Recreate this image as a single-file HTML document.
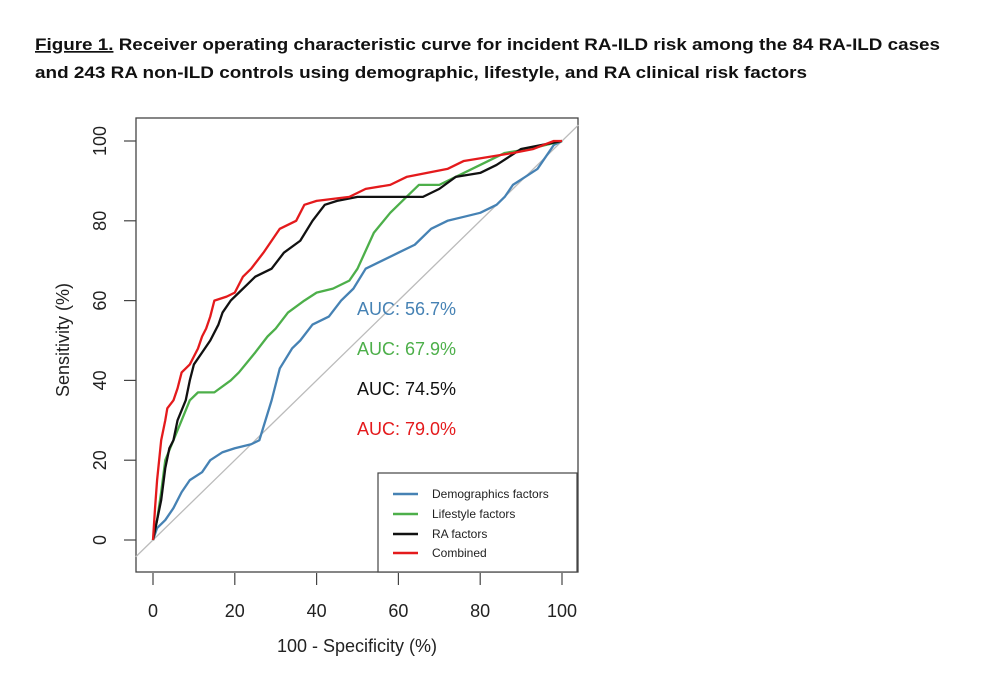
<!DOCTYPE html>
<html><head><meta charset="utf-8"><style>
html,body{margin:0;padding:0;background:#fff;}
svg{display:block;font-family:"Liberation Sans",Arial,sans-serif;}
</style></head><body>
<svg id="chart" width="986" height="678" viewBox="0 0 986 678">
<text x="35" y="50" font-size="17" font-weight="bold" fill="#111" textLength="905" lengthAdjust="spacingAndGlyphs"><tspan text-decoration="underline">Figure 1.</tspan> Receiver operating characteristic curve for incident RA-ILD risk among the 84 RA-ILD cases</text>
<text x="35" y="78" font-size="17" font-weight="bold" fill="#111" textLength="772" lengthAdjust="spacingAndGlyphs">and 243 RA non-ILD controls using demographic, lifestyle, and RA clinical risk factors</text>
<rect x="136" y="118" width="442" height="454" fill="none" stroke="#444" stroke-width="1.3"/>
<g id="axes"></g>
<g id="curves"></g>
<text x="357" y="652" font-size="18" text-anchor="middle" fill="#222">100 - Specificity (%)</text>
<text transform="translate(69,340) rotate(-90)" font-size="18" text-anchor="middle" fill="#222">Sensitivity (%)</text>
<text x="357" y="315" font-size="18" fill="#4682b4">AUC: 56.7%</text>
<text x="357" y="355" font-size="18" fill="#4daf4a">AUC: 67.9%</text>
<text x="357" y="395" font-size="18" fill="#111">AUC: 74.5%</text>
<text x="357" y="435" font-size="18" fill="#e41a1c">AUC: 79.0%</text>
<g>
<rect x="378" y="473" width="199" height="99" fill="#fff" stroke="#444" stroke-width="1.2"/>
<line x1="393" x2="418" y1="494" y2="494" stroke="#4682b4" stroke-width="2.5"/>
<text x="432" y="498" font-size="12" fill="#222">Demographics factors</text>
<line x1="393" x2="418" y1="514" y2="514" stroke="#4daf4a" stroke-width="2.5"/>
<text x="432" y="518" font-size="12" fill="#222">Lifestyle factors</text>
<line x1="393" x2="418" y1="534" y2="534" stroke="#111" stroke-width="2.5"/>
<text x="432" y="538" font-size="12" fill="#222">RA factors</text>
<line x1="393" x2="418" y1="553" y2="553" stroke="#e41a1c" stroke-width="2.5"/>
<text x="432" y="557" font-size="12" fill="#222">Combined</text>
</g>
</svg>
<script>
const xTicks = [0, 20, 40, 60, 80, 100];
const yTicks = [0, 20, 40, 60, 80, 100];
const demoX = [0,1,3,5,7,9,12,14,17,20,24,26,29,31,34,36,39,43,46,49,52,56,60,64,68,72,76,80,84,86,88,91,94,96,98,100];
const demoY = [0,3,5,8,12,15,17,20,22,23,24,25,35,43,48,50,54,56,60,63,68,70,72,74,78,80,81,82,84,86,89,91,93,96,99,100];
const lifeX = [0,1,2,3,5,7,9,11,15,19,21,25,28,30,33,37,40,44,48,50,54,58,62,65,67,70,74,78,82,86,92,96,100];
const lifeY = [0,5,12,20,25,30,35,37,37,40,42,47,51,53,57,60,62,63,65,68,77,82,86,89,89,89,91,93,95,97,98,99,100];
const raX = [0,1,2,3,4,5,6,8,9,10,12,14,16,17,19,21,23,25,29,32,36,39,42,45,50,62,66,70,74,80,84,87,90,95,100];
const raY = [0,5,10,18,23,25,30,35,40,44,47,50,54,57,60,62,64,66,68,72,75,80,84,85,86,86,86,88,91,92,94,96,98,99,100];
const combX = [0,0.5,1,1.5,2,3,3.5,5,6,7,9,11,12,13,14,15,18,20,22,24,27,29,31,35,37,40,48,52,58,62,67,72,76,82,88,93,98,100];
const combY = [0,8,15,20,25,30,33,35,38,42,44,48,51,53,56,60,61,62,66,68,72,75,78,80,84,85,86,88,89,91,92,93,95,96,97,98,100,100];

const NS = "http://www.w3.org/2000/svg";
const sx = v => 153 + v * 4.09;
const sy = v => 540 - v * 3.99;
const axes = document.getElementById('axes');
const curves = document.getElementById('curves');

xTicks.forEach(t => {
  const l = document.createElementNS(NS, 'line');
  
  
  l.setAttribute('x1', sx(t)); l.setAttribute('x2', sx(t));
  l.setAttribute('y1', 573); l.setAttribute('y2', 585);
  l.setAttribute('stroke', '#444'); l.setAttribute('stroke-width', '1.2');
  axes.appendChild(l);
  const tx = document.createElementNS(NS, 'text');
  
  
  tx.setAttribute('x', sx(t)); tx.setAttribute('y', 617);
  tx.setAttribute('font-size', '18'); tx.setAttribute('text-anchor', 'middle'); tx.setAttribute('fill', '#222');
  tx.textContent = t;
  axes.appendChild(tx);
});
yTicks.forEach(t => {
  const l = document.createElementNS(NS, 'line');
  
  
  l.setAttribute('x1', 124); l.setAttribute('x2', 136);
  l.setAttribute('y1', sy(t)); l.setAttribute('y2', sy(t));
  l.setAttribute('stroke', '#444'); l.setAttribute('stroke-width', '1.2');
  axes.appendChild(l);
  const tx = document.createElementNS(NS, 'text');
  
  
  tx.setAttribute('transform', 'translate(106,' + sy(t) + ') rotate(-90)');
  tx.setAttribute('font-size', '18'); tx.setAttribute('text-anchor', 'middle'); tx.setAttribute('fill', '#222');
  tx.textContent = t;
  axes.appendChild(tx);
});

const diag = document.createElementNS(NS, 'line');


diag.setAttribute('x1', sx(-4.2)); diag.setAttribute('y1', sy(-4.2));
diag.setAttribute('x2', sx(104)); diag.setAttribute('y2', sy(104));
diag.setAttribute('stroke', '#bbb'); diag.setAttribute('stroke-width', '1.3');
curves.appendChild(diag);

function drawCurve(xs, ys, color, name) {
  let d = '';
  for (let i = 0; i < xs.length; i++) {
    d += (i === 0 ? 'M' : ' L') + sx(xs[i]) + ' ' + sy(ys[i]);
  }
  const p = document.createElementNS(NS, 'path');
  
  
  p.setAttribute('d', d);
  p.setAttribute('fill', 'none');
  p.setAttribute('stroke', color);
  p.setAttribute('stroke-width', '2.3');
  p.setAttribute('stroke-linejoin', 'round');
  curves.appendChild(p);
}
drawCurve(demoX, demoY, '#4682b4', 'curve-demographics');
drawCurve(lifeX, lifeY, '#4daf4a', 'curve-lifestyle');
drawCurve(raX, raY, '#111111', 'curve-ra-factors');
drawCurve(combX, combY, '#e41a1c', 'curve-combined');
</script>
</body></html>
